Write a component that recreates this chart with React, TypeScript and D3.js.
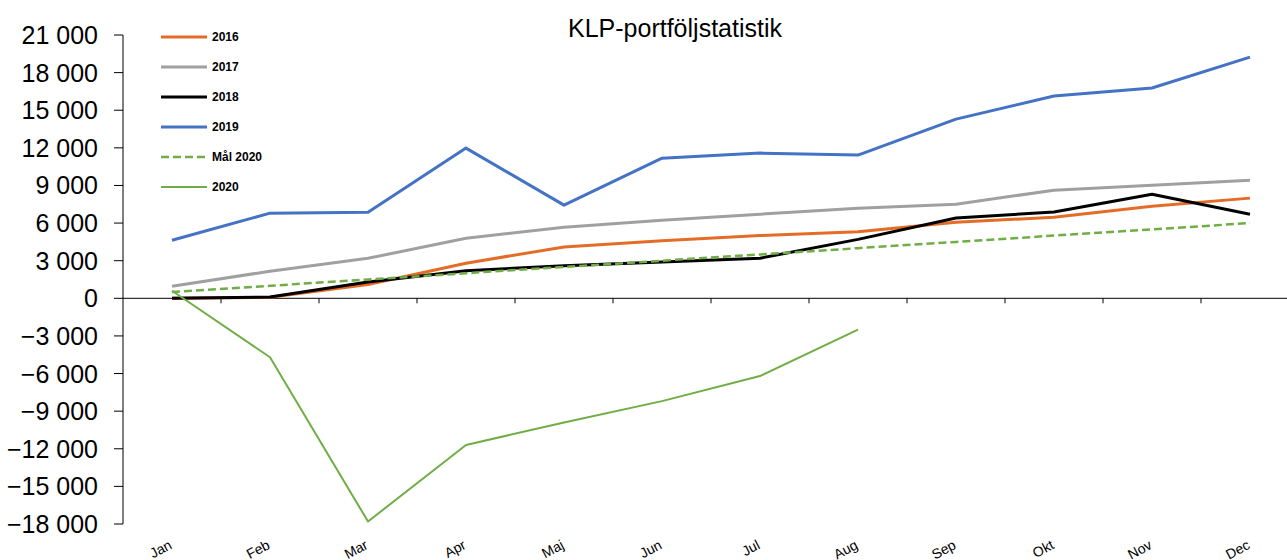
import React, { useEffect, useRef } from 'react';
import * as d3 from 'd3';

const months = ['Jan', 'Feb', 'Mar', 'Apr', 'Maj', 'Jun', 'Jul', 'Aug', 'Sep', 'Okt', 'Nov', 'Dec'];
const yTicks = [-18000, -15000, -12000, -9000, -6000, -3000, 0, 3000, 6000, 9000, 12000, 15000, 18000, 21000];

const v2016 = [0, 80, 1100, 2800, 4100, 4600, 5000, 5300, 6070, 6470, 7350, 7990];
const v2017 = [960, 2160, 3190, 4790, 5670, 6230, 6710, 7190, 7510, 8620, 9020, 9420];
const v2018 = [0, 100, 1300, 2200, 2600, 2900, 3200, 4700, 6410, 6890, 8300, 6710];
const v2019 = [4630, 6790, 6870, 11980, 7430, 11180, 11580, 11420, 14290, 16130, 16770, 19240];
const vMal2020 = [500, 1000, 1500, 2000, 2500, 3000, 3500, 4000, 4500, 5000, 5500, 6000];
const v2020 = [600, -4700, -17800, -11700, -9900, -8200, -6200, -2500];

const series = [
  { name: '2016', values: v2016, color: '#E46C26', width: 3, dash: null },
  { name: '2017', values: v2017, color: '#A0A0A0', width: 3, dash: null },
  { name: '2018', values: v2018, color: '#000000', width: 3, dash: null },
  { name: '2019', values: v2019, color: '#4472C4', width: 3, dash: null },
  { name: 'Mål 2020', values: vMal2020, color: '#70AD47', width: 2.5, dash: '8,4' },
  { name: '2020', values: v2020, color: '#70AD47', width: 2, dash: null },
];

const fmt = (v: number) => {
  const s = d3.format(',')(v);
  return s.replace(/,/g, ' ');
};

const App = () => {
  const svgRef = useRef<SVGSVGElement>(null);

  useEffect(() => {
    const W = 1287;
    const H = 560;
    const left = 123;
    const step = 98;

    const svg = d3.select(svgRef.current).attr('width', W).attr('height', H);
    svg.selectAll('*').remove();

    const x = d3.scaleBand<string>()
      .domain(months)
      .range([left, left + step * months.length]);

    const y = d3.scaleLinear()
      .domain([-18000, 21000])
      .range([524, 35]);

    const cx = (m: string) => (x(m) as number) + x.bandwidth() / 2;

    // y axis
    svg.append('line')
      .attr('x1', left).attr('x2', left)
      .attr('y1', y(21000)).attr('y2', y(-18000))
      .attr('stroke', '#000').attr('stroke-width', 1);

    svg.selectAll('.ytick')
      .data(yTicks)
      .enter()
      .append('line')
      .attr('x1', left - 9).attr('x2', left)
      .attr('y1', d => y(d)).attr('y2', d => y(d))
      .attr('stroke', '#000');

    svg.selectAll('.ylabel')
      .data(yTicks)
      .enter()
      .append('text')
      .attr('x', 98)
      .attr('y', d => y(d))
      .attr('dy', '0.36em')
      .attr('text-anchor', 'end')
      .style('font-family', 'Liberation Sans, Arial, sans-serif')
      .style('font-size', '25px')
      .attr('fill', '#000')
      .text(d => fmt(d));

    // zero line with ticks
    svg.append('line')
      .attr('x1', left).attr('x2', W)
      .attr('y1', y(0)).attr('y2', y(0))
      .attr('stroke', '#000');

    svg.selectAll('.xtick')
      .data(months.slice(1))
      .enter()
      .append('line')
      .attr('x1', d => x(d) as number).attr('x2', d => x(d) as number)
      .attr('y1', y(0)).attr('y2', y(0) + 5)
      .attr('stroke', '#000');

    // x labels (slightly cut at the bottom edge, as in the original)
    svg.selectAll('.xlabel')
      .data(months)
      .enter()
      .append('text')
      .attr('transform', d => `translate(${cx(d) + 1},${548}) rotate(-28)`)
      .attr('text-anchor', 'end')
      .style('font-family', 'Liberation Sans, Arial, sans-serif')
      .style('font-size', '14px')
      .attr('fill', '#000')
      .text(d => d);

    const line = d3.line<number>()
      .x((_, i) => cx(months[i]))
      .y(d => y(d));

    series.forEach(s => {
      svg.append('path')
        .datum(s.values)
        .attr('d', line)
        .attr('fill', 'none')
        .attr('stroke', s.color)
        .attr('stroke-width', s.width)
        .attr('stroke-linejoin', 'round')
        .attr('stroke-dasharray', s.dash);
    });

    // legend
    const lg = svg.append('g');
    series.forEach((s, i) => {
      const ly = 37 + i * 30;
      lg.append('line')
        .attr('x1', 161).attr('x2', 207)
        .attr('y1', ly).attr('y2', ly)
        .attr('stroke', s.color)
        .attr('stroke-width', s.width)
        .attr('stroke-dasharray', s.dash);
      lg.append('text')
        .attr('x', 212)
        .attr('y', ly)
        .attr('dy', '0.36em')
        .style('font-family', 'Liberation Sans, Arial, sans-serif')
        .style('font-size', '12px')
        .style('font-weight', 'bold')
        .text(s.name);
    });

    svg.append('text')
      .attr('x', 675)
      .attr('y', 37)
      .attr('text-anchor', 'middle')
      .style('font-family', 'Liberation Sans, Arial, sans-serif')
      .style('font-size', '25px')
      .text('KLP-portföljstatistik');
  }, []);

  return (
    <div style={{ position: 'absolute', left: 0, top: 0 }}>
      <svg ref={svgRef} style={{ display: 'block', background: '#fff' }}></svg>
    </div>
  );
};

export default App;
